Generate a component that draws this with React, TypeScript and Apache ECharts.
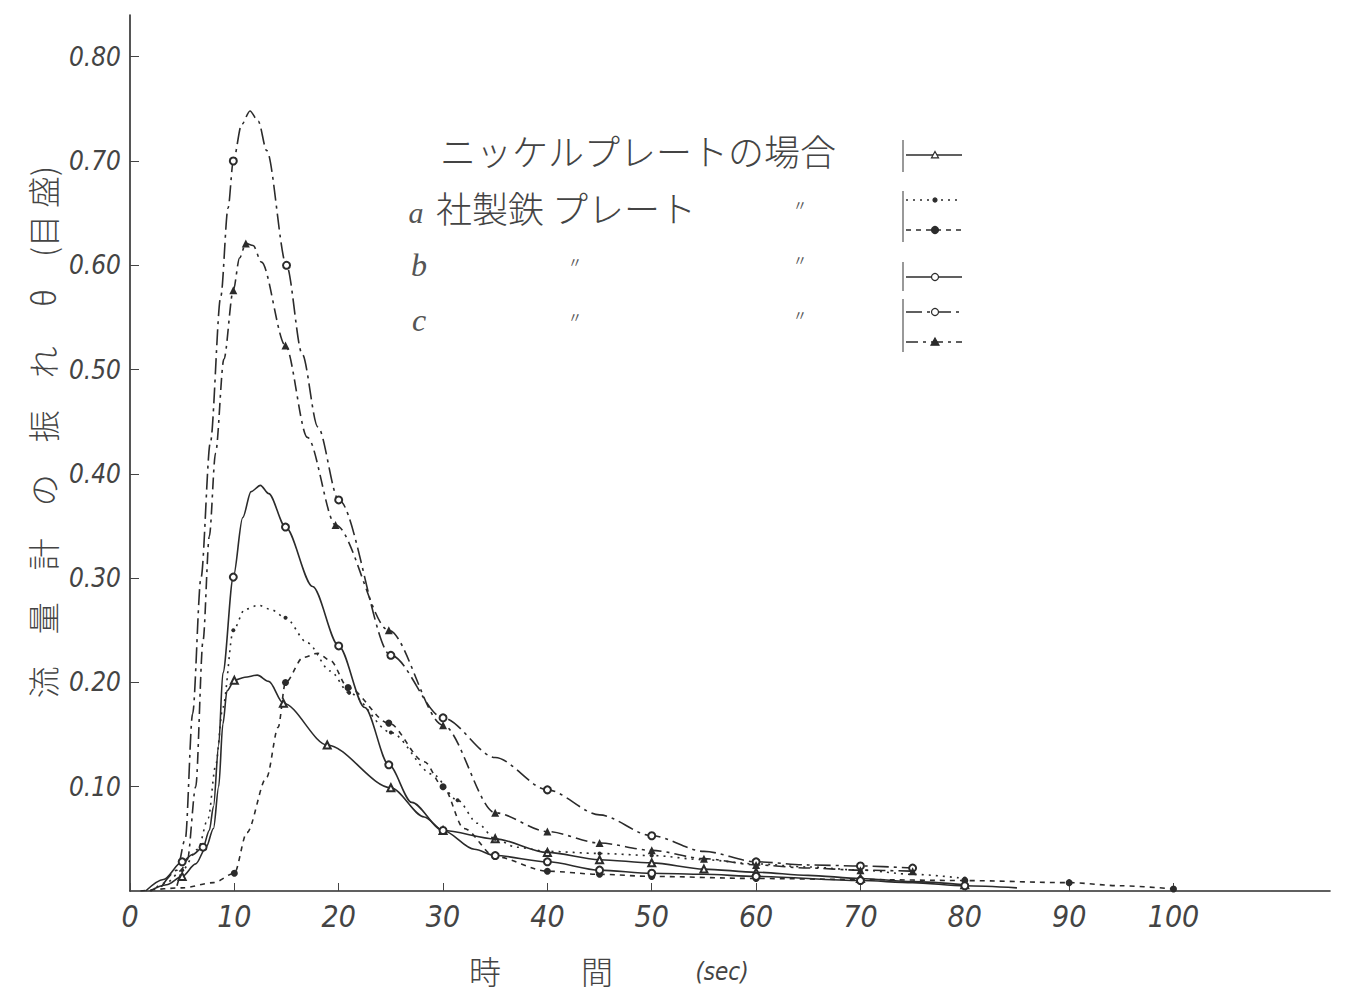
import React, { useEffect, useRef } from "react";
import * as echarts from "echarts";

// ---- tick labels ----
const xTickValues = [0, 10, 20, 30, 40, 50, 60, 70, 80, 90, 100];
const yTickValues = [0.1, 0.2, 0.3, 0.4, 0.5, 0.6, 0.7, 0.8];

// ---- data: [time(sec), deflection θ, measured point (1) or curve point (0)] ----
type Pt = [number, number, number];

// ニッケルプレートの場合 (solid, open triangles)
const nickelPlate: Pt[] = [
  [1.9, 0, 0], [3.5, 0.006, 0], [5, 0.014, 1], [6.3, 0.026, 0], [7.3, 0.042, 0], [8, 0.06, 0],
  [8.5, 0.1, 0], [8.9, 0.16, 0], [9.3, 0.192, 0], [10, 0.202, 1], [11, 0.205, 0], [12.2, 0.207, 0],
  [13.3, 0.201, 0], [14.7, 0.18, 1], [18.9, 0.14, 1], [25, 0.099, 1],
  [28.2, 0.071, 0], [30, 0.058, 1], [35, 0.05, 1], [40, 0.037, 1], [45, 0.03, 1], [50, 0.027, 1],
  [55, 0.021, 1], [60, 0.018, 1], [65, 0.015, 0], [70, 0.012, 1], [75, 0.009, 0], [80, 0.006, 1],
];

// a 社製鉄プレート (dotted, small dots)
const plateA1: Pt[] = [
  [2, 0, 0], [3.5, 0.008, 0], [5, 0.02, 1], [6.5, 0.04, 0], [7.5, 0.07, 0], [8.2, 0.12, 0],
  [8.9, 0.176, 0], [9.9, 0.25, 1], [11, 0.27, 0], [12.3, 0.274, 0], [13.5, 0.27, 0], [14.9, 0.262, 1],
  [17, 0.238, 0], [19.2, 0.211, 0], [21, 0.19, 1], [25, 0.152, 1], [29, 0.112, 0],
  [31.4, 0.087, 1], [33.3, 0.065, 0], [35, 0.05, 1], [37, 0.042, 0], [40, 0.038, 1],
  [45, 0.036, 1], [50, 0.034, 1], [55, 0.03, 1], [60, 0.026, 1], [65, 0.023, 0], [70, 0.02, 1],
  [75, 0.016, 0], [80, 0.012, 1],
];

// a 社製鉄プレート (dashed, black dots)
const plateA2: Pt[] = [
  [1, 0, 0], [5, 0.003, 0], [8, 0.008, 0], [10, 0.017, 1], [11.2, 0.056, 0], [13.1, 0.109, 0],
  [14.2, 0.157, 0], [14.9, 0.2, 1], [16.6, 0.224, 0], [18, 0.228, 0], [19.2, 0.221, 0], [20.9, 0.195, 1],
  [24.8, 0.161, 1], [28.2, 0.124, 0], [30, 0.1, 1], [32, 0.06, 0],
  [35, 0.033, 1], [40, 0.019, 1], [45, 0.016, 1], [50, 0.014, 1], [60, 0.012, 1], [70, 0.011, 1],
  [80, 0.01, 1], [90, 0.008, 1], [95, 0.005, 0], [100, 0.002, 1],
];

// b (solid, open circles)
const plateB: Pt[] = [
  [1.5, 0, 0], [3.2, 0.011, 0], [5, 0.028, 1], [6, 0.035, 0], [7, 0.042, 1], [7.6, 0.058, 0],
  [8, 0.081, 0], [8.5, 0.14, 0], [8.9, 0.209, 0], [9.9, 0.301, 1], [10.8, 0.358, 0], [11.6, 0.383, 0],
  [12.5, 0.389, 0], [13.3, 0.381, 0], [14.9, 0.349, 1], [17.5, 0.292, 0], [20, 0.235, 1], [22.5, 0.176, 0],
  [24.8, 0.121, 1], [27, 0.085, 0],
  [30, 0.058, 1], [33, 0.04, 0], [35, 0.034, 1], [40, 0.028, 1], [45, 0.02, 1], [50, 0.017, 1],
  [55, 0.016, 0], [60, 0.014, 1], [70, 0.01, 1], [75, 0.008, 0], [80, 0.005, 1], [85, 0.003, 0],
];

// c (dash-dot, open circles)
const plateC1: Pt[] = [
  [3, 0.004, 0], [4.5, 0.02, 0], [5.3, 0.05, 0], [6, 0.17, 0], [6.8, 0.3, 0], [7.7, 0.43, 0],
  [8.7, 0.57, 0], [9.4, 0.655, 0], [9.9, 0.7, 1], [10.7, 0.735, 0], [11.5, 0.748, 0],
  [12.3, 0.738, 0], [13.1, 0.71, 0], [15, 0.6, 1], [16.5, 0.515, 0], [18, 0.445, 0], [20, 0.375, 1],
  [25, 0.226, 1], [30, 0.166, 1], [35, 0.128, 0], [40, 0.097, 1], [45, 0.073, 0], [50, 0.053, 1],
  [55, 0.038, 0], [60, 0.028, 1], [65, 0.025, 0], [70, 0.024, 1], [75, 0.022, 1],
];

// c (dash-dot, black triangles)
const plateC2: Pt[] = [
  [4.5, 0.005, 0], [5.5, 0.03, 0], [6.3, 0.1, 0], [7, 0.24, 0], [7.6, 0.34, 0], [8.2, 0.42, 0],
  [9, 0.51, 0], [9.9, 0.576, 1], [10.5, 0.607, 0], [11.1, 0.621, 1], [11.8, 0.619, 0], [12.6, 0.603, 0],
  [14.9, 0.523, 1], [17, 0.435, 0], [19.7, 0.351, 1], [24.8, 0.25, 1],
  [30, 0.159, 1], [35, 0.075, 1], [40, 0.057, 1], [45, 0.046, 1], [50, 0.039, 1],
  [55, 0.031, 1], [60, 0.025, 1], [65, 0.022, 0], [70, 0.02, 1], [75, 0.019, 1],
];

const ink = "#2b2b2b";
const numFont = "'Liberation Sans Narrow', 'DejaVu Sans Condensed', 'Liberation Sans', sans-serif";
const jpFont = "'Noto Sans CJK JP', sans-serif";

type Def = {
  name: string;
  data: Pt[];
  dash: any;
  width: number;
  symbol: string;
  size: number;
  legendY: number;
};

const defs: Def[] = [
  { name: "ニッケルプレート", data: nickelPlate, dash: "solid", width: 1.6, symbol: "emptyTriangle", size: 7, legendY: 155 },
  { name: "a 社製鉄プレート (1)", data: plateA1, dash: [2, 5], width: 1.6, symbol: "circle", size: 4, legendY: 200 },
  { name: "a 社製鉄プレート (2)", data: plateA2, dash: [5, 5], width: 1.6, symbol: "circle", size: 7, legendY: 230 },
  { name: "b", data: plateB, dash: "solid", width: 1.6, symbol: "emptyCircle", size: 7, legendY: 277 },
  { name: "c (1)", data: plateC1, dash: [16, 5, 3, 5], width: 1.6, symbol: "emptyCircle", size: 7, legendY: 312 },
  { name: "c (2)", data: plateC2, dash: [12, 5, 3, 5], width: 1.6, symbol: "triangle", size: 8, legendY: 342 },
];

function legendMarker(d: Def, cx: number, cy: number): any {
  const filled = !d.symbol.startsWith("empty");
  const style = { fill: filled ? ink : "#fff", stroke: ink, lineWidth: 1.2 };
  const r = d.size / 2;
  if (d.symbol.toLowerCase().includes("triangle")) {
    return {
      type: "polygon",
      shape: { points: [[cx, cy - r], [cx + r, cy + r * 0.8], [cx - r, cy + r * 0.8]] },
      style,
    };
  }
  return { type: "circle", shape: { cx, cy, r }, style };
}

export default function App() {
  const ref = useRef<HTMLDivElement>(null);

  useEffect(() => {
    if (!ref.current) return;
    const chart = echarts.init(ref.current, undefined, { renderer: "svg" });

    const graphics: any[] = [];
    // y-axis name (vertical)
    graphics.push({
      type: "text",
      x: 42,
      y: 432,
      rotation: Math.PI / 2,
      style: {
        text: "流　量　計　の　振　れ　 θ　(目 盛)",
        font: `300 32px ${jpFont}`,
        fill: "#444",
        align: "center",
        verticalAlign: "middle",
      },
    });
    // x-axis name
    graphics.push({ type: "text", x: 485, y: 970, style: { text: "時", font: `300 32px ${jpFont}`, fill: "#444", align: "center", verticalAlign: "middle" } });
    graphics.push({ type: "text", x: 597, y: 970, style: { text: "間", font: `300 32px ${jpFont}`, fill: "#444", align: "center", verticalAlign: "middle" } });
    graphics.push({ type: "text", x: 722, y: 972, style: { text: "(sec)", font: `italic 24px ${numFont}`, fill: "#444", align: "center", verticalAlign: "middle" } });

    // legend table texts
    graphics.push({ type: "text", x: 440, y: 150, style: { text: "ニッケルプレートの場合", font: `300 36px ${jpFont}`, fill: "#444", align: "left", verticalAlign: "middle" } });
    graphics.push({ type: "text", x: 416, y: 212, style: { text: "a", font: `italic 30px 'Liberation Serif', serif`, fill: "#555", align: "center", verticalAlign: "middle" } });
    graphics.push({ type: "text", x: 436, y: 207, style: { text: "社製鉄 プレート", font: `300 36px ${jpFont}`, fill: "#444", align: "left", verticalAlign: "middle" } });
    graphics.push({ type: "text", x: 419, y: 265, style: { text: "b", font: `italic 32px 'Liberation Serif', serif`, fill: "#555", align: "center", verticalAlign: "middle" } });
    graphics.push({ type: "text", x: 419, y: 320, style: { text: "c", font: `italic 32px 'Liberation Serif', serif`, fill: "#555", align: "center", verticalAlign: "middle" } });
    const dittos: [number, number][] = [[800, 204], [575, 261], [800, 259], [575, 316], [800, 314]];
    dittos.forEach(([x, y]) =>
      graphics.push({ type: "text", x, y, style: { text: "〃", font: `14px ${jpFont}`, fill: "#555", align: "center", verticalAlign: "middle" } })
    );

    // legend brackets
    const brackets: [number, number][] = [[140, 172], [191, 242], [262, 291], [299, 352]];
    brackets.forEach(([y1, y2]) =>
      graphics.push({ type: "line", shape: { x1: 903, y1, x2: 903, y2 }, style: { stroke: "#555", lineWidth: 1.2 } })
    );
    // legend samples
    defs.forEach((d) => {
      graphics.push({
        type: "line",
        shape: { x1: 906, y1: d.legendY, x2: 962, y2: d.legendY },
        style: { stroke: ink, lineWidth: d.width, lineDash: Array.isArray(d.dash) ? d.dash : null },
      });
      graphics.push(legendMarker(d, 935, d.legendY));
    });

    chart.setOption({
      animation: false,
      backgroundColor: "#fff",
      grid: { left: 130, right: 17, top: 15, bottom: 107, containLabel: false },
      xAxis: {
        type: "value",
        min: 0,
        max: 115,
        axisLine: { show: true, lineStyle: { color: ink, width: 1.6 } },
        axisTick: { show: true, inside: true, length: 8, customValues: xTickValues, lineStyle: { color: "#444" } },
        axisLabel: {
          customValues: xTickValues,
          margin: 10,
          fontFamily: numFont,
          fontStyle: "italic",
          fontSize: 30,
          color: "#444",
          formatter: (v: number) => String(v),
        },
        splitLine: { show: false },
      },
      yAxis: {
        type: "value",
        min: 0,
        max: 0.84,
        axisLine: { show: true, lineStyle: { color: ink, width: 1.6 } },
        axisTick: { show: true, inside: true, length: 9, customValues: yTickValues, lineStyle: { color: "#444" } },
        axisLabel: {
          customValues: yTickValues,
          margin: 9,
          fontFamily: numFont,
          fontStyle: "italic",
          fontSize: 26,
          color: "#444",
          formatter: (v: number) => v.toFixed(2),
        },
        splitLine: { show: false },
      },
      series: defs.map((d) => ({
        type: "line",
        name: d.name,
        data: d.data.map(([x, y, m]) => (m ? { value: [x, y] } : { value: [x, y], symbol: "none" })),
        smooth: 0.3,
        smoothMonotone: "x",
        symbol: d.symbol,
        symbolSize: d.size,
        showSymbol: true,
        showAllSymbol: true,
        lineStyle: { color: ink, width: d.width, type: d.dash },
        itemStyle: { color: ink, borderWidth: 1.2 },
        emphasis: { disabled: true },
      })),
      graphic: graphics,
    });

    return () => chart.dispose();
  }, []);

  return (
    <div
      ref={ref}
      style={{ position: "fixed", left: 0, top: 0, width: 1347, height: 998, background: "#fff" }}
    />
  );
}
